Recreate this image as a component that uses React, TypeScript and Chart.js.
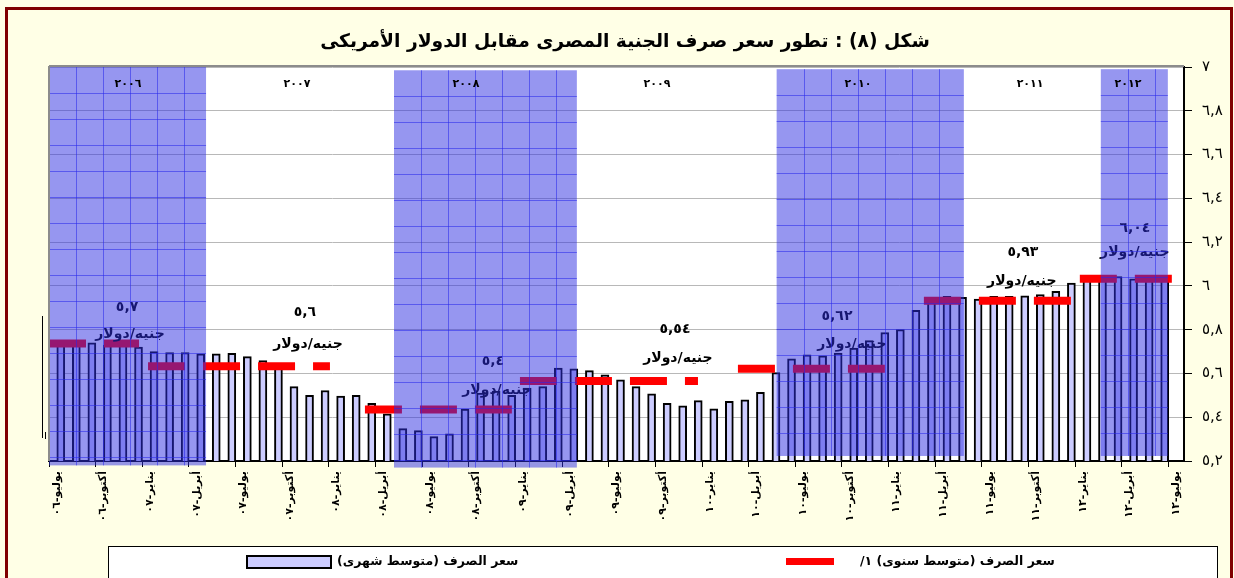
import React, { useEffect, useRef } from "react";
import { Chart, registerables } from "chart.js";

Chart.register(...registerables);

// ---------- data ----------
const toAr = (s: string) => s.replace(/[0-9]/g, (d) => "٠١٢٣٤٥٦٧٨٩"[+d]);

const monthNames = ["يوليو", "أغسطس", "سبتمبر", "أكتوبر", "نوفمبر", "ديسمبر", "يناير", "فبراير", "مارس", "أبريل", "مايو", "يونيو"];

// Jul-2006 .. Jul-2012 (73 months)
const categories: string[] = Array.from({ length: 73 }, (_, i) => {
  const yr = 6 + Math.floor((i + 6) / 12);
  return `${monthNames[i % 12]}-${toAr(String(yr).padStart(2, "0"))}`;
});

// monthly average exchange rate (EGP per USD)
const monthlyRate: (number | null)[] = [
  5.74, 5.74, 5.74, 5.73, 5.74, 5.72, // 2006 H2
  5.70, 5.695, 5.695, 5.69, 5.69, 5.692, // 2007 H1
  5.677, 5.659, 5.629, 5.54, 5.50, 5.522, // 2007 H2
  5.497, 5.50, 5.464, 5.415, 5.348, 5.339, // 2008 H1
  5.311, 5.324, 5.437, 5.51, 5.52, 5.50, // 2008 H2
  5.533, 5.54, 5.624, 5.621, 5.613, 5.594, // 2009 H1
  5.571, 5.54, 5.507, 5.464, 5.452, 5.476, // 2009 H2
  5.438, 5.473, 5.479, 5.514, 5.604, 5.667, // 2010 H1
  5.685, 5.68, 5.693, 5.716, 5.75, 5.787, // 2010 H2
  5.80, 5.888, 5.937, 5.952, 5.948, 5.94, // 2011 H1
  5.952, 5.952, 5.955, 5.96, 5.975, 6.013, // 2011 H2
  6.036, 6.04, 6.043, 6.032, 6.04, 6.04, // 2012 H1
  null, // Jul 2012
];

// annual average (red dashed segments), in month-index units
const annualAvg = [5.737, 5.633, 5.435, 5.565, 5.622, 5.932, 6.033];
const annualFrom = [-0.5, 5.87, 19.82, 29.79, 43.81, 55.77, 65.8];
const annualTo = [5.29, 17.57, 29.27, 41.24, 53.26, 65.29, 71.72];

// annotation texts
const annValueText = ["٥,٧", "٥,٦", "٥,٤", "٥,٥٤", "٥,٦٢", "٥,٩٣", "٦,٠٤"];
const annValueMonth = [4.52, 15.96, 28.05, 39.76, 50.18, 62.14, 69.34];
const annValueLevel = [5.9, 5.877, 5.653, 5.8, 5.859, 6.152, 6.262];
const annUnitText = "جنيه/دولار";
const annUnitMonth = [4.71, 16.16, 28.31, 39.95, 51.14, 62.07, 69.34];
const annUnitLevel = [5.777, 5.731, 5.525, 5.671, 5.731, 6.019, 6.152];

// year labels at the top
const yearText = ["٢٠٠٦", "٢٠٠٧", "٢٠٠٨", "٢٠٠٩", "٢٠١٠", "٢٠١١", "٢٠١٢"];
const yearMonth = [4.58, 15.45, 26.32, 38.6, 51.53, 62.6, 68.9];
const yearLevel = 6.92;

// shaded (blue) year blocks
const shadeFrom = [-0.5, 21.69, 46.3, 67.15];
const shadeTo = [9.6, 33.45, 58.34, 71.46];
const shadeTop = [7.0, 6.985, 6.99, 6.99];
const shadeBottom = [5.18, 5.17, 5.223, 5.223];

const yTickLabels = ["٥,٢", "٥,٤", "٥,٦", "٥,٨", "٦", "٦,٢", "٦,٤", "٦,٦", "٦,٨", "٧"];

const titleText = "شكل (٨) : تطور سعر صرف الجنية المصرى مقابل الدولار الأمريكى";
const legendMonthly = "سعر الصرف (متوسط شهرى)";
const legendAnnual = "سعر الصرف (متوسط سنوى) ١/";

// ---------- build line data ----------
const annualPoints: { x: number; y: number | null }[] = [];
annualAvg.forEach((v, i) => {
  annualPoints.push({ x: annualFrom[i], y: v });
  annualPoints.push({ x: annualTo[i], y: v });
  annualPoints.push({ x: annualTo[i] + 0.01, y: null });
});

const FONT = '"DejaVu Sans", sans-serif';

const decor = {
  id: "decor",
  beforeDraw(chart: any) {
    const { ctx, chartArea: a, width, height } = chart;
    ctx.save();
    ctx.fillStyle = "#FFFFE6";
    ctx.fillRect(0, 0, width, height);
    ctx.fillStyle = "#FFFFFF";
    ctx.fillRect(a.left, a.top, a.right - a.left, a.bottom - a.top);
    ctx.strokeStyle = "#800000";
    ctx.lineWidth = 3;
    ctx.strokeRect(6.5, 8.5, 1225, 620);
    // stray marker line at the left of the plot
    ctx.strokeStyle = "#000";
    ctx.lineWidth = 1;
    ctx.beginPath();
    ctx.moveTo(42.5, 316);
    ctx.lineTo(42.5, 438);
    ctx.moveTo(45.5, 432);
    ctx.lineTo(45.5, 439);
    ctx.stroke();
    ctx.restore();
  },
  afterDatasetsDraw(chart: any) {
    const { ctx, scales } = chart;
    const xs = scales.xl;
    const ys = scales.y;
    ctx.save();
    ctx.fillStyle = "#000";
    ctx.direction = "rtl";
    ctx.textAlign = "center";
    ctx.textBaseline = "middle";
    annValueText.forEach((t, i) => {
      ctx.font = `bold 14px ${FONT}`;
      (ctx as any).letterSpacing = "2px";
      ctx.fillText(t, xs.getPixelForValue(annValueMonth[i]), ys.getPixelForValue(annValueLevel[i]));
      (ctx as any).letterSpacing = "0px";
      ctx.font = `bold 14px ${FONT}`;
      ctx.fillText(annUnitText, xs.getPixelForValue(annUnitMonth[i]), ys.getPixelForValue(annUnitLevel[i]));
    });
    // shaded blocks
    shadeFrom.forEach((f, i) => {
      const x0 = xs.getPixelForValue(f);
      const x1 = xs.getPixelForValue(shadeTo[i]);
      const y0 = ys.getPixelForValue(shadeTop[i]);
      const y1 = ys.getPixelForValue(shadeBottom[i]);
      ctx.fillStyle = "rgba(45,45,225,0.5)";
      ctx.fillRect(x0, y0, x1 - x0, y1 - y0);
      ctx.strokeStyle = "rgba(40,40,235,0.55)";
      ctx.lineWidth = 1;
      ctx.beginPath();
      for (let x = x0 + 27; x < x1 - 2; x += 27) {
        ctx.moveTo(Math.round(x) + 0.5, y0);
        ctx.lineTo(Math.round(x) + 0.5, y1);
      }
      for (let y = y0 + 26; y < y1 - 2; y += 26) {
        ctx.moveTo(x0, Math.round(y) + 0.5);
        ctx.lineTo(x1, Math.round(y) + 0.5);
      }
      ctx.stroke();
    });
    ctx.restore();
  },
  afterDraw(chart: any) {
    const { ctx, chartArea: a, scales } = chart;
    const xs = scales.xl;
    const ys = scales.y;
    ctx.save();
    // plot border (top / left)
    ctx.strokeStyle = "#8C8C8C";
    ctx.lineWidth = 2;
    ctx.beginPath();
    ctx.moveTo(a.left, a.top - 1);
    ctx.lineTo(a.right, a.top - 1);
    ctx.moveTo(a.left, a.top - 1);
    ctx.lineTo(a.left, a.bottom);
    ctx.stroke();

    // title
    ctx.fillStyle = "#000";
    ctx.direction = "rtl";
    ctx.textAlign = "center";
    ctx.textBaseline = "middle";
    ctx.font = `bold 18.7px ${FONT}`;
    ctx.fillText(titleText, 625, 42);

    // year labels
    ctx.font = `bold 11px ${FONT}`;
    (ctx as any).letterSpacing = "4px";
    yearText.forEach((t, i) => {
      ctx.fillText(t, xs.getPixelForValue(yearMonth[i]), ys.getPixelForValue(yearLevel));
    });
    (ctx as any).letterSpacing = "0px";

    // legend
    ctx.fillStyle = "#FFFFFF";
    ctx.fillRect(108, 546, 1109, 40);
    ctx.strokeStyle = "#000";
    ctx.lineWidth = 1;
    ctx.strokeRect(108.5, 546.5, 1109, 40);
    ctx.fillStyle = "#CCCCFF";
    ctx.fillRect(247, 556, 84, 12);
    ctx.strokeStyle = "#000";
    ctx.lineWidth = 2;
    ctx.strokeRect(247, 556, 84, 12);
    ctx.fillStyle = "#FF0000";
    ctx.fillRect(786, 558, 48, 7);
    ctx.fillStyle = "#000";
    ctx.font = `bold 12.5px ${FONT}`;
    ctx.textAlign = "left";
    ctx.fillText(legendMonthly, 337, 562);
    ctx.fillText(legendAnnual, 860, 562);
    ctx.restore();
  },
};

export default function App() {
  const ref = useRef<HTMLCanvasElement>(null);
  useEffect(() => {
    const chart = new Chart(ref.current as HTMLCanvasElement, {
      type: "bar",
      data: {
        labels: categories,
        datasets: [
          {
            type: "line",
            label: "annual",
            data: annualPoints as any,
            xAxisID: "xl",
            yAxisID: "y",
            borderColor: "#FF0000",
            borderWidth: 8,
            borderDash: [37, 18],
            borderCapStyle: "butt",
            pointRadius: 0,
            spanGaps: false,
            fill: false,
            tension: 0,
            order: 0,
          } as any,
          {
            type: "bar",
            label: "monthly",
            data: monthlyRate,
            xAxisID: "x",
            yAxisID: "y",
            backgroundColor: "#CCCCFF",
            borderColor: "#000000",
            borderWidth: 2,
            barThickness: 8,
            order: 1,
          } as any,
        ],
      },
      options: {
        animation: false,
        responsive: false,
        maintainAspectRatio: false,
        layout: { padding: { top: 67, left: 49, right: 0, bottom: 0 } },
        plugins: {
          legend: { display: false },
          tooltip: { enabled: false },
          title: { display: false },
        },
        scales: {
          x: {
            type: "category",
            position: "bottom",
            offset: true,
            grid: {
              offset: true,
              drawOnChartArea: false,
              drawTicks: true,
              tickLength: 6,
              tickColor: (c: any) => (c.index % 3 === 0 ? "#000" : "rgba(0,0,0,0)"),
              color: "rgba(0,0,0,0)",
            },
            border: { display: true, color: "#000", width: 2 },
            ticks: {
              autoSkip: false,
              maxRotation: 90,
              minRotation: 90,
              padding: 4,
              color: "#000",
              font: { family: "DejaVu Sans", size: 11, weight: "bold" },
              callback: (_v: any, i: number) => (i % 3 === 0 ? categories[i] : ""),
            },
            afterFit: (s: any) => {
              s.height = 117;
            },
          } as any,
          xl: { type: "linear", display: false, offset: false, min: -0.5, max: 72.5 },
          y: {
            type: "linear",
            position: "right",
            min: 5.2,
            max: 7,
            ticks: {
              stepSize: 0.2,
              padding: 10,
              color: "#000",
              font: { family: "DejaVu Sans", size: 15 },
              callback: (_v: any, i: number) => yTickLabels[i],
            },
            grid: { color: "#B8B8B8", tickColor: "#000", tickLength: 8, lineWidth: 1 },
            border: { display: true, color: "#000", width: 2 },
            afterFit: (s: any) => {
              s.width = 50;
            },
          } as any,
        },
      },
      plugins: [decor],
    });
    return () => chart.destroy();
  }, []);
  return (
    <div style={{ position: "fixed", left: 0, top: 0, width: 1234, height: 578, background: "#FFFFE6" }}>
      <canvas ref={ref} width={1234} height={578} style={{ display: "block", width: 1234, height: 578 }} />
    </div>
  );
}
